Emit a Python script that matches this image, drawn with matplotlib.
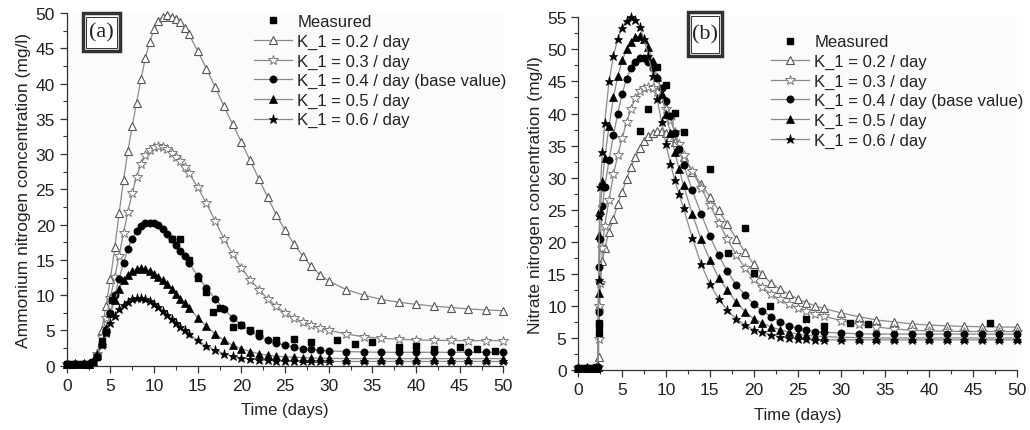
import matplotlib
matplotlib.use('Agg')
import matplotlib.pyplot as plt
import matplotlib.patches as patches
from matplotlib.ticker import MultipleLocator

plt.rcParams['font.family'] = ['Liberation Sans', 'DejaVu Sans']

# ---- panel (a): ammonium nitrogen ----
t_a = [0, 1, 2, 2.5,
       3, 3.5, 4, 4.5, 5, 5.5, 6, 6.5, 7, 7.5, 8, 8.5, 9, 9.5, 10, 10.5, 11, 11.5, 12, 12.5, 13, 13.5, 14,
       15, 16, 17, 18, 19, 20, 21, 22, 23, 24, 25, 26, 27, 28, 29, 30,
       32, 34, 36, 38, 40, 42, 44, 46, 48, 50]
a_k02 = [0.3, 0.3, 0.3, 0.3,
         0.6, 1.8, 5.0, 8.5, 12.3, 16.8, 21.6, 26.3, 30.4, 34.0, 37.3, 40.6, 43.6, 45.9, 47.7, 48.9, 49.5, 49.7, 49.5, 49.2, 48.7, 47.9, 47.0,
         44.6, 42.1, 39.5, 36.8, 34.2, 31.7, 29.1, 26.5, 23.9, 21.4, 19.2, 17.3, 15.6, 14.1, 12.9, 12.0,
         10.8, 10.0, 9.4, 9.0, 8.7, 8.45, 8.25, 8.05, 7.9, 7.8]
a_k03 = [0.3, 0.3, 0.3, 0.3,
         0.5, 1.6, 4.0, 6.8, 9.6, 12.6, 15.6, 18.8, 21.8, 24.5, 26.8, 28.6, 29.8, 30.6, 31.0, 31.1, 31.0, 30.7, 30.2, 29.6, 29.0, 28.2, 27.3,
         25.3, 23.0, 20.5, 18.0, 15.8, 13.9, 12.2, 10.8, 9.5, 8.4, 7.5, 6.8, 6.2, 5.7, 5.3, 5.0,
         4.5, 4.1, 3.9, 3.75, 3.65, 3.6, 3.58, 3.55, 3.55, 3.55]
a_k04 = [0.3, 0.3, 0.3, 0.3,
         0.5, 1.4, 3.1, 5.1, 7.5, 10.0, 12.3, 14.6, 16.6, 18.0, 19.1, 19.8, 20.2, 20.3, 20.2, 19.9, 19.4, 18.7, 17.9, 17.1, 16.3, 15.5, 14.6,
         12.7, 11.0, 9.5, 8.0, 6.8, 5.8, 4.9, 4.2, 3.6, 3.2, 2.9, 2.6, 2.4, 2.3, 2.2, 2.1,
         2.0, 1.95, 1.9, 1.9, 1.9, 1.9, 1.9, 1.9, 1.9, 1.9]
a_k05 = [0.3, 0.3, 0.3, 0.3,
         0.5, 1.5, 3.2, 5.3, 7.4, 9.3, 10.9, 12.1, 12.9, 13.4, 13.7, 13.8, 13.7, 13.4, 13.0, 12.6, 12.2, 11.6, 10.9, 10.2, 9.5, 8.9, 8.2,
         6.8, 5.6, 4.5, 3.6, 2.9, 2.4, 2.0, 1.7, 1.5, 1.35, 1.25, 1.2, 1.15, 1.1, 1.08, 1.05,
         1.0, 1.0, 1.0, 1.0, 1.0, 1.0, 1.0, 1.0, 1.0, 1.0]
a_k06 = [0.3, 0.3, 0.3, 0.3,
         0.5, 1.5, 3.0, 4.6, 6.0, 7.1, 8.0, 8.6, 9.1, 9.4, 9.55, 9.6, 9.5, 9.2, 8.8, 8.3, 7.7, 7.2, 6.6, 6.0, 5.5, 5.0, 4.5,
         3.6, 2.8, 2.2, 1.7, 1.35, 1.1, 0.95, 0.85, 0.78, 0.72, 0.68, 0.65, 0.63, 0.62, 0.61, 0.6,
         0.6, 0.6, 0.6, 0.6, 0.6, 0.6, 0.6, 0.6, 0.6, 0.6]
meas_t_a = [0, 0.5, 1, 1.5, 2, 2.5, 3, 3.5, 4, 4.5, 5.2,
            12, 13, 14, 15, 16, 16.8, 17.6, 19, 20, 21, 22, 24,
            26, 28, 31, 33, 35, 38, 40, 42, 45, 47, 49]
meas_a = [0.3, 0.3, 0.3, 0.3, 0.3, 0.3, 0.5, 1.2, 3.5, 4.8, 9.3,
          18.0, 18.0, 15.0, 12.5, 10.5, 7.6, 8.2, 5.5, 5.8, 5.1, 4.6, 3.6,
          3.8, 3.4, 3.7, 3.1, 3.3, 2.6, 2.8, 2.4, 2.6, 2.4, 2.1]

# ---- panel (b): nitrate nitrogen ----
t_b = [0, 1, 2, 2.2, 2.3, 2.4, 2.5, 2.75,
       3, 3.5, 4, 4.5, 5, 5.5, 6, 6.5, 7, 7.5, 8, 8.5, 9, 9.5, 10, 10.5, 11, 11.5, 12,
       13, 14, 15, 16, 17, 18, 19, 20, 21, 22, 23, 24, 25, 26, 27, 28,
       30, 32, 34, 36, 38, 40, 42, 44, 46, 48, 50]
b_k02 = [0.3, 0.3, 0.3, 0.4, 2.0, 10.0, 14.0, 17.0,
         19.0, 21.5, 23.6, 25.9, 27.8, 29.8, 31.6, 33.2, 34.6, 35.7, 36.5, 37.0, 37.3, 37.3, 37.0, 36.4, 35.5, 34.4, 33.2,
         30.9, 29.0, 27.0, 24.9, 22.7, 20.5, 18.4, 16.5, 14.9, 13.5, 12.6, 11.8, 11.1, 10.5, 10.0, 9.6,
         8.9, 8.3, 7.8, 7.5, 7.2, 7.0, 6.9, 6.8, 6.75, 6.7, 6.7]
b_k03 = [0.3, 0.3, 0.3, 0.4, 4.8, 10.0, 13.5, 19.0,
         22.5, 26.5, 30.5, 33.5, 36.2, 38.6, 40.7, 42.4, 43.5, 44.0, 44.2, 44.0, 43.3, 42.2, 40.7, 39.0, 37.1, 35.2, 33.6,
         31.0, 28.4, 25.7, 23.0, 20.4, 18.0, 15.9, 14.2, 12.9, 11.8, 11.0, 10.3, 9.7, 9.2, 8.8, 8.4,
         7.7, 7.1, 6.7, 6.4, 6.2, 6.1, 6.05, 6.0, 6.0, 6.0, 6.0]
b_k04 = [0.3, 0.3, 0.3, 0.5, 9.0, 16.0, 20.5, 25.5,
         28.5, 32.7, 36.6, 40.0, 43.1, 45.4, 47.1, 48.1, 48.6, 48.6, 48.1, 47.1, 45.6, 43.9, 42.0, 39.6, 37.0, 34.4, 32.0,
         28.0, 24.4, 20.9, 17.9, 15.4, 13.3, 11.7, 10.3, 9.2, 8.3, 7.5, 6.9, 6.5, 6.2, 6.0, 5.9,
         5.75, 5.65, 5.6, 5.6, 5.6, 5.6, 5.6, 5.6, 5.6, 5.6, 5.6]
b_k05 = [0.3, 0.3, 0.3, 0.5, 12.0, 21.0, 25.0, 29.5,
         33.0, 38.0, 42.5, 45.8, 48.3, 50.0, 51.2, 51.9, 52.1, 51.6, 50.3, 48.2, 45.7, 43.0, 40.0, 37.0, 34.0, 31.3, 28.8,
         24.3, 20.4, 17.2, 14.4, 12.4, 10.6, 9.1, 8.0, 7.3, 6.7, 6.3, 5.9, 5.6, 5.4, 5.3, 5.2,
         5.1, 5.05, 5.0, 5.0, 5.0, 5.0, 5.0, 5.0, 5.0, 5.0, 5.0]
b_k06 = [0.3, 0.3, 0.3, 0.5, 14.0, 24.0, 28.5, 34.0,
         38.5, 45.0, 49.0, 51.6, 53.4, 54.5, 55.0, 54.6, 53.5, 51.6, 49.0, 45.8, 42.2, 38.6, 35.2, 32.2, 29.6, 27.4, 25.2,
         20.6, 16.5, 13.4, 11.1, 9.3, 8.0, 7.0, 6.3, 5.9, 5.5, 5.2, 5.0, 4.9, 4.8, 4.75, 4.7,
         4.7, 4.7, 4.7, 4.7, 4.7, 4.7, 4.7, 4.7, 4.7, 4.7, 4.7]
meas_t_b = [0, 0.5, 1, 1.5, 2, 2.3, 2.35, 2.4,
            7.0, 8.0, 9.0, 10.0, 11.0, 12.0,
            15.0, 17.1, 19.0, 20.0, 21.9,
            26.0, 28.0, 31.0, 33.0, 47.0]
meas_b = [0.3, 0.3, 0.3, 0.3, 0.4, 5.8, 6.8, 7.4,
          37.3, 40.7, 47.2, 44.4, 40.1, 37.1,
          31.3, 18.3, 22.2, 15.1, 10.0,
          8.0, 6.9, 7.4, 7.2, 7.4]

labels = ['K_1 = 0.2 / day', 'K_1 = 0.3 / day', 'K_1 = 0.4 / day (base value)',
          'K_1 = 0.5 / day', 'K_1 = 0.6 / day']

# marker styles for the five rates
styles = [dict(marker='^', ms=6, mfc='white', mec='#555555', mew=0.8),
          dict(marker='*', ms=7.5, mfc='white', mec='#777777', mew=0.7),
          dict(marker='o', ms=5.2, mfc='black', mec='black', mew=0.5),
          dict(marker='^', ms=5.8, mfc='black', mec='black', mew=0.5),
          dict(marker='*', ms=6.5, mfc='black', mec='black', mew=0.5)]


def draw_panel(ax, t, curves, mt, my, ymax, ylabel, tag, tagbox, legpos):
    ax.set_facecolor('#fbfbfb')
    handles = []
    for y, lab, st in zip(curves, labels, styles):
        h, = ax.plot(t, y, color='#8a8a8a', lw=0.9, label=lab, clip_on=False, **st)
        handles.append(h)
    hm, = ax.plot(mt, my, ls='none', marker='s', ms=4.8, color='black', label='Measured',
                  clip_on=False, zorder=5)
    ax.set_xlim(0, 50)
    ax.set_ylim(0, ymax)
    ax.xaxis.set_major_locator(MultipleLocator(5))
    ax.xaxis.set_minor_locator(MultipleLocator(2.5))
    ax.yaxis.set_major_locator(MultipleLocator(5))
    ax.yaxis.set_minor_locator(MultipleLocator(2.5))
    for s in ['top', 'right']:
        ax.spines[s].set_visible(False)
    for s in ['left', 'bottom']:
        ax.spines[s].set_color('#333333')
        ax.spines[s].set_linewidth(0.9)
    ax.tick_params(which='major', direction='out', length=5, width=0.9, colors='#333333',
                   labelsize=12.5, labelcolor='#222222')
    ax.tick_params(which='minor', direction='out', length=3, width=0.8, colors='#333333')
    ax.set_xlabel('Time (days)', fontsize=12, color='#222222', labelpad=7)
    ax.set_ylabel(ylabel, fontsize=12.5, color='#222222', labelpad=3)

    leg = ax.legend([hm] + handles, ['Measured'] + labels, loc='upper left',
                    bbox_to_anchor=legpos, frameon=False, fontsize=12,
                    handlelength=2.3, handletextpad=0.3, labelspacing=0.27, borderpad=0)
    for txt in leg.get_texts():
        txt.set_color('#222222')

    # label box with double frame
    x0, y0, w, h = tagbox
    ax.add_patch(patches.Rectangle((x0, y0), w, h, transform=ax.transAxes, fill=True,
                                   facecolor='white', edgecolor='#333333', lw=2.5,
                                   clip_on=False, zorder=6))
    ax.add_patch(patches.Rectangle((x0 + 0.008, y0 + 0.01), w - 0.016, h - 0.02,
                                   transform=ax.transAxes, fill=False,
                                   edgecolor='#333333', lw=0.7, clip_on=False, zorder=7))
    ax.text(x0 + w / 2, y0 + h / 2, tag, transform=ax.transAxes, ha='center', va='center',
            fontsize=16, family='Liberation Serif', color='#222222', zorder=8)


fig = plt.figure(figsize=(10.30, 4.31), dpi=100)
fig.patch.set_facecolor('white')

ax1 = fig.add_axes([0.0648, 0.1492, 0.4239, 0.8183])
draw_panel(ax1, t_a, [a_k02, a_k03, a_k04, a_k05, a_k06], meas_t_a, meas_a, 50,
           'Ammonium nitrogen concentration (mg/l)', '(a)',
           (0.037, 0.892, 0.085, 0.108), (0.41, 1.02))

ax2 = fig.add_axes([0.5615, 0.1392, 0.4256, 0.8183])
draw_panel(ax2, t_b, [b_k02, b_k03, b_k04, b_k05, b_k06], meas_t_b, meas_b, 55,
           'Nitrate nitrogen concentration (mg/l)', '(b)',
           (0.250, 0.890, 0.078, 0.125), (0.42, 0.975))

fig.savefig('out.png', dpi=100)
